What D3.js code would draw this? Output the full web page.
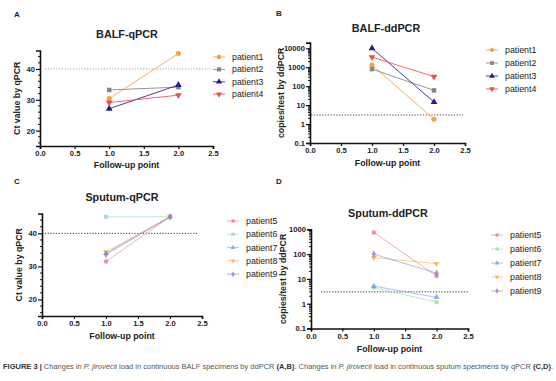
<!DOCTYPE html>
<html><head><meta charset="utf-8">
<script src="https://cdn.jsdelivr.net/npm/d3@7"></script>
<style>body{margin:0;background:#fff}svg{display:block}</style>
</head><body>
<svg id="c" width="556" height="381"></svg>
<script>
// ---- data ----
const followUp = [1, 2];
const xTicks = [0.0, 0.5, 1.0, 1.5, 2.0, 2.5];
const balfPatients = ["patient1", "patient2", "patient3", "patient4"];
const sputumPatients = ["patient5", "patient6", "patient7", "patient8", "patient9"];
const balfQpcr = [[30.4, 45.0], [33.2, 34.1], [27.1, 34.8], [29.1, 31.5]];
const balfDdpcr = [[1300, 1.8], [800, 60], [10000, 14.5], [3400, 320]];
const sputumQpcr = [[31.5, 45.0], [45.0, 45.0], [34.0, 45.0], [34.4, 45.0], [33.6, 45.0]];
const sputumDdpcr = [[750, 13], [4.5, 1.15], [5.1, 1.8], [72, 41], [100, 17]];
const qpcrTicks = [20, 30, 40];
const ddpcrTicksB = [0.1, 1, 10, 100, 1000, 10000];
const ddpcrTicksD = [0.1, 1, 10, 100, 1000];
const qpcrThreshold = 40;
const ddpcrThreshold = 3;

const balfColors = ["#f4a043", "#858585", "#1d1f8c", "#e8504e"];
const sputumColors = ["#e97a78", "#9bd6a6", "#6f9fe0", "#f2b24e", "#8e80d2"];
const symbols = [d3.symbolCircle, d3.symbolSquare, d3.symbolTriangle, "down", d3.symbolDiamond];

const svg = d3.select("#c");
const FONT = "'Liberation Sans', Arial, sans-serif";
const TXT = "#222";

function symPath(s, size) {
  if (s === "down") return d3.symbol(d3.symbolTriangle, size)();
  return d3.symbol(s, size)();
}

function panel(cfg) {
  const g = svg.append("g");
  const x = d3.scaleLinear().domain([0, 2.5]).range([cfg.x0, cfg.x1]);
  const y = cfg.log
    ? d3.scaleLog().domain(cfg.yDomain).range([cfg.yb, cfg.yt])
    : d3.scaleLinear().domain(cfg.yDomain).range([cfg.yb, cfg.yt]);

  g.append("line")
    .attr("x1", cfg.thrX0).attr("x2", cfg.thrX1)
    .attr("y1", y(cfg.thr)).attr("y2", y(cfg.thr))
    .attr("stroke", cfg.thrColor).attr("stroke-width", 1)
    .attr("stroke-dasharray", "1.2,1.6");

  cfg.series.forEach((vals, i) => {
    const pts = followUp.map((f, j) => [x(f), y(vals[j])]);
    g.append("path").attr("d", d3.line()(pts))
      .attr("fill", "none").attr("stroke", cfg.colors[i])
      .attr("stroke-width", 1).attr("stroke-opacity", cfg.lineOpacity);
    pts.forEach(p => {
      g.append("path").attr("d", symPath(symbols[i], cfg.markerSize))
        .attr("transform", `translate(${p[0]},${p[1]})` + (symbols[i] === "down" ? " rotate(180)" : ""))
        .attr("fill", cfg.colors[i]).attr("fill-opacity", cfg.markerOpacity);
    });
  });

  const xa = g.append("g").attr("transform", `translate(0,${cfg.yb})`)
    .call(d3.axisBottom(x).tickValues(xTicks).tickFormat(d3.format(".1f")).tickSize(3).tickPadding(2));
  let ya;
  if (cfg.log) {
    ya = g.append("g").attr("transform", `translate(${cfg.x0},0)`)
      .call(d3.axisLeft(y).tickValues(cfg.yTicks).tickFormat(d => d < 1 ? d3.format(".1f")(d) : d3.format("d")(d)).tickSize(4).tickPadding(1));
    const minors = [];
    const [lo, hi] = cfg.yDomain;
    for (let e = Math.floor(Math.log10(lo)); e <= Math.ceil(Math.log10(hi)); e++) {
      for (let m = 2; m <= 9; m++) {
        const v = m * Math.pow(10, e);
        if (v > lo && v < hi) minors.push(v);
      }
    }
    g.selectAll(null).data(minors).enter().append("line")
      .attr("x1", cfg.x0 - 2).attr("x2", cfg.x0).attr("y1", d => y(d)).attr("y2", d => y(d))
      .attr("stroke", "#111").attr("stroke-width", 1);
  } else {
    ya = g.append("g").attr("transform", `translate(${cfg.x0},0)`)
      .call(d3.axisLeft(y).tickValues(cfg.yTicks).tickSize(4).tickPadding(1));
    const minors = d3.range(16, 46, 2).filter(v => !cfg.yTicks.includes(v));
    g.selectAll(null).data(minors).enter().append("line")
      .attr("x1", cfg.x0 - 2).attr("x2", cfg.x0).attr("y1", d => y(d)).attr("y2", d => y(d))
      .attr("stroke", "#111").attr("stroke-width", 1);
  }
  [xa, ya].forEach(a => {
    a.select(".domain").attr("stroke", "#111").attr("stroke-width", 1.6);
    a.selectAll(".tick line").attr("stroke", "#111").attr("stroke-width", 1.2);
    a.selectAll("text").attr("font-family", FONT).attr("font-weight", "bold")
      .attr("font-size", 7.6).attr("fill", TXT);
  });

  g.append("text").attr("x", cfg.titleX).attr("y", cfg.titleY).attr("text-anchor", "middle")
    .attr("font-family", FONT).attr("font-weight", "bold").attr("font-size", 10.8).attr("fill", TXT)
    .text(cfg.title);
  g.append("text").attr("x", cfg.labX).attr("y", cfg.labY)
    .attr("font-family", FONT).attr("font-weight", "bold").attr("font-size", 8).attr("fill", TXT)
    .text(cfg.label);
  g.append("text").attr("x", (cfg.x0 + cfg.x1) / 2).attr("y", cfg.xlabY).attr("text-anchor", "middle")
    .attr("font-family", FONT).attr("font-weight", "bold").attr("font-size", 8.8).attr("fill", TXT)
    .text("Follow-up point");
  g.append("text").attr("transform", `translate(${cfg.ylabX},${(cfg.yt + cfg.yb) / 2}) rotate(-90)`)
    .attr("text-anchor", "middle")
    .attr("font-family", FONT).attr("font-weight", "bold").attr("font-size", 8.8).attr("fill", TXT)
    .text(cfg.ylab);

  cfg.names.forEach((n, i) => {
    const ly = cfg.legY + i * cfg.legDy;
    const lg = g.append("g");
    lg.append("line").attr("x1", cfg.legX).attr("x2", cfg.legX + 12).attr("y1", ly).attr("y2", ly)
      .attr("stroke", cfg.colors[i]).attr("stroke-width", 1).attr("stroke-opacity", cfg.lineOpacity);
    lg.append("path").attr("d", symPath(symbols[i], cfg.legMarker))
      .attr("transform", `translate(${cfg.legX + 6},${ly})` + (symbols[i] === "down" ? " rotate(180)" : ""))
      .attr("fill", cfg.colors[i]).attr("fill-opacity", cfg.markerOpacity);
    lg.append("text").attr("x", cfg.legX + 19).attr("y", ly + 3)
      .attr("font-family", FONT).attr("font-size", 8.8).attr("fill", TXT).text(n);
  });
}

panel({ x0: 40, x1: 213, yt: 50.5, yb: 146, yDomain: [15, 46], log: false, yTicks: qpcrTicks,
  series: balfQpcr, colors: balfColors, names: balfPatients, thr: qpcrThreshold, thrX0: 45, thrX1: 211,
  thrColor: "#999", title: "BALF-qPCR", titleX: 127, titleY: 38, label: "A", labX: 14, labY: 17,
  xlabY: 168, ylabX: 20, ylab: "Ct value by qPCR", legX: 213, legY: 57, legDy: 12.4,
  lineOpacity: 0.85, markerOpacity: 1, markerSize: 20, legMarker: 16 });

panel({ x0: 310, x1: 465, yt: 42.6, yb: 143, yDomain: [0.1, 20000], log: true, yTicks: ddpcrTicksB,
  series: balfDdpcr, colors: balfColors, names: balfPatients, thr: ddpcrThreshold, thrX0: 311, thrX1: 463,
  thrColor: "#444", title: "BALF-ddPCR", titleX: 386, titleY: 32, label: "B", labX: 276, labY: 16,
  xlabY: 166, ylabX: 284, ylab: "copies/test by ddPCR", legX: 486, legY: 50, legDy: 13,
  lineOpacity: 0.85, markerOpacity: 1, markerSize: 20, legMarker: 14 });

panel({ x0: 42, x1: 202, yt: 213.5, yb: 316, yDomain: [15, 46], log: false, yTicks: qpcrTicks,
  series: sputumQpcr, colors: sputumColors, names: sputumPatients, thr: qpcrThreshold, thrX0: 42, thrX1: 198,
  thrColor: "#333", title: "Sputum-qPCR", titleX: 122, titleY: 201, label: "C", labX: 14, labY: 184,
  xlabY: 339, ylabX: 22, ylab: "Ct value by qPCR", legX: 227, legY: 221, legDy: 13.3,
  lineOpacity: 0.6, markerOpacity: 0.8, markerSize: 16, legMarker: 10 });

panel({ x0: 311, x1: 468, yt: 229.3, yb: 328.5, yDomain: [0.1, 1000], log: true, yTicks: ddpcrTicksD,
  series: sputumDdpcr, colors: sputumColors, names: sputumPatients, thr: ddpcrThreshold, thrX0: 321, thrX1: 468,
  thrColor: "#333", title: "Sputum-ddPCR", titleX: 388, titleY: 217, label: "D", labX: 276, labY: 184,
  xlabY: 352, ylabX: 286, ylab: "copies/test by ddPCR", legX: 491, legY: 235, legDy: 14,
  lineOpacity: 0.6, markerOpacity: 0.8, markerSize: 16, legMarker: 10 });

const cap = svg.append("text").attr("x", 3).attr("y", 369)
  .attr("font-family", FONT).attr("font-size", 6.3).attr("fill", "#555")
  .attr("textLength", 550).attr("lengthAdjust", "spacingAndGlyphs");
[["FIGURE 3 | ", "bold", "normal", "#333"], ["Changes in ", "normal", "normal"], ["P. jirovecii", "normal", "italic"],
 [" load in continuous BALF specimens by ddPCR ", "normal", "normal"], ["(A,B)", "bold", "normal", "#333"],
 [". Changes in ", "normal", "normal"], ["P. jirovecii", "normal", "italic"],
 [" load in continuous sputum specimens by qPCR ", "normal", "normal"], ["(C,D)", "bold", "normal", "#333"], [".", "normal", "normal"]]
 .forEach(([t, w, s, c]) => {
   const ts = cap.append("tspan").attr("font-weight", w).attr("font-style", s).text(t);
   if (c) ts.attr("fill", c);
 });
</script>
</body></html>
